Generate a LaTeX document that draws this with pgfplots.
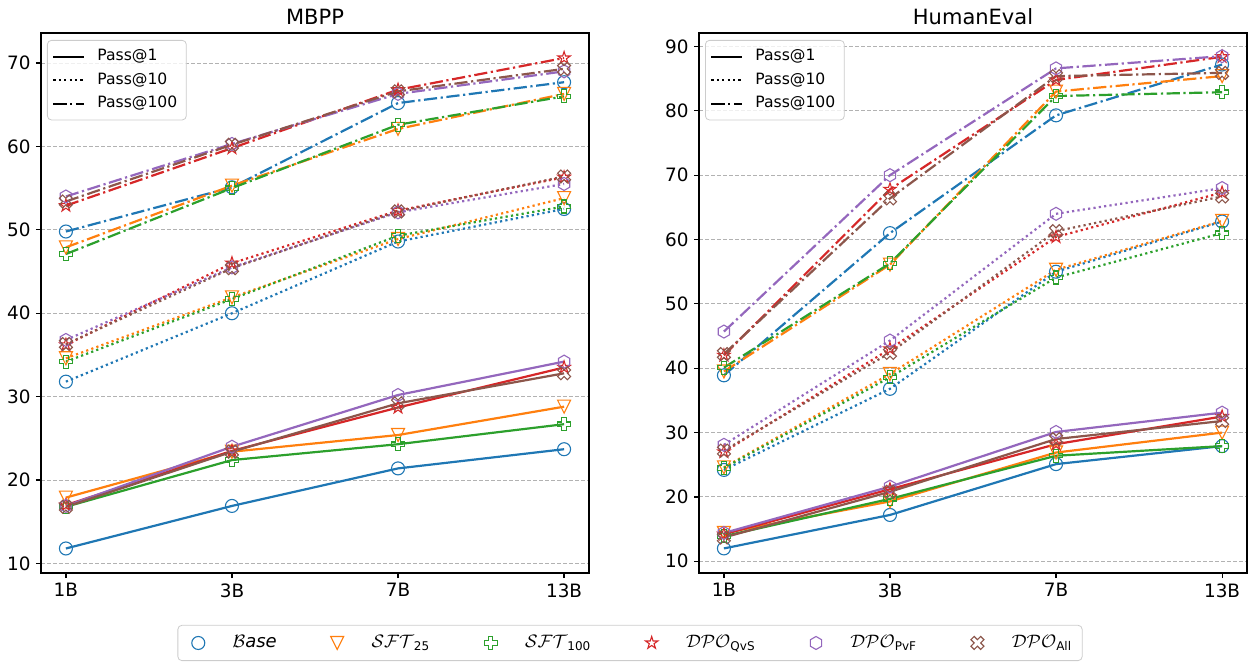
\documentclass[border=0pt]{standalone}
\usepackage{amsmath}
\usepackage{fontspec}
\setmainfont{DejaVu Sans}
\usepackage{pgfplots}
\usepackage{pgfplotstable}
\pgfplotsset{compat=1.18}

\definecolor{c0}{HTML}{1F77B4}
\definecolor{c1}{HTML}{FF7F0E}
\definecolor{c2}{HTML}{2CA02C}
\definecolor{c3}{HTML}{D62728}
\definecolor{c4}{HTML}{9467BD}
\definecolor{c5}{HTML}{8C564B}

% open markers in the matplotlib shapes
\newcommand{\mk}[2]{\pgfpoint{#1\pgfplotmarksize}{#2\pgfplotmarksize}}
\pgfdeclareplotmark{tridown}{%
  \pgfpathmoveto{\mk{0}{-1}}\pgfpathlineto{\mk{-1}{1}}\pgfpathlineto{\mk{1}{1}}%
  \pgfpathclose\pgfusepathqstroke}
\pgfdeclareplotmark{plusP}{%
  \pgfpathmoveto{\mk{-0.333}{-1}}\pgfpathlineto{\mk{0.333}{-1}}\pgfpathlineto{\mk{0.333}{-0.333}}%
  \pgfpathlineto{\mk{1}{-0.333}}\pgfpathlineto{\mk{1}{0.333}}\pgfpathlineto{\mk{0.333}{0.333}}%
  \pgfpathlineto{\mk{0.333}{1}}\pgfpathlineto{\mk{-0.333}{1}}\pgfpathlineto{\mk{-0.333}{0.333}}%
  \pgfpathlineto{\mk{-1}{0.333}}\pgfpathlineto{\mk{-1}{-0.333}}\pgfpathlineto{\mk{-0.333}{-0.333}}%
  \pgfpathclose\pgfusepathqstroke}
\pgfdeclareplotmark{xO}{%
  \pgfpathmoveto{\mk{-0.5}{-1}}\pgfpathlineto{\mk{0}{-0.5}}\pgfpathlineto{\mk{0.5}{-1}}%
  \pgfpathlineto{\mk{1}{-0.5}}\pgfpathlineto{\mk{0.5}{0}}\pgfpathlineto{\mk{1}{0.5}}%
  \pgfpathlineto{\mk{0.5}{1}}\pgfpathlineto{\mk{0}{0.5}}\pgfpathlineto{\mk{-0.5}{1}}%
  \pgfpathlineto{\mk{-1}{0.5}}\pgfpathlineto{\mk{-0.5}{0}}\pgfpathlineto{\mk{-1}{-0.5}}%
  \pgfpathclose\pgfusepathqstroke}
\pgfdeclareplotmark{starO}{%
  \pgfpathmoveto{\pgfpointpolar{90}{\pgfplotmarksize}}%
  \pgfpathlineto{\pgfpointpolar{126}{0.382\pgfplotmarksize}}\pgfpathlineto{\pgfpointpolar{162}{\pgfplotmarksize}}%
  \pgfpathlineto{\pgfpointpolar{198}{0.382\pgfplotmarksize}}\pgfpathlineto{\pgfpointpolar{234}{\pgfplotmarksize}}%
  \pgfpathlineto{\pgfpointpolar{270}{0.382\pgfplotmarksize}}\pgfpathlineto{\pgfpointpolar{306}{\pgfplotmarksize}}%
  \pgfpathlineto{\pgfpointpolar{342}{0.382\pgfplotmarksize}}\pgfpathlineto{\pgfpointpolar{18}{\pgfplotmarksize}}%
  \pgfpathlineto{\pgfpointpolar{54}{0.382\pgfplotmarksize}}%
  \pgfpathclose\pgfusepathqstroke}
\pgfdeclareplotmark{hexO}{%
  \pgfpathmoveto{\pgfpointpolar{90}{\pgfplotmarksize}}%
  \pgfpathlineto{\pgfpointpolar{150}{\pgfplotmarksize}}\pgfpathlineto{\pgfpointpolar{210}{\pgfplotmarksize}}%
  \pgfpathlineto{\pgfpointpolar{270}{\pgfplotmarksize}}\pgfpathlineto{\pgfpointpolar{330}{\pgfplotmarksize}}%
  \pgfpathlineto{\pgfpointpolar{30}{\pgfplotmarksize}}%
  \pgfpathclose\pgfusepathqstroke}

\pgfplotsset{
  mk/.style={mark size=3.25pt, mark options={solid, fill=none, line width=0.55pt}},
  mB/.style={color=c0, mark=o, mk},
  mS/.style={color=c1, mark=tridown, mk},
  mT/.style={color=c2, mark=plusP, mk},
  mQ/.style={color=c3, mark=starO, mk},
  mP/.style={color=c4, mark=hexO, mk},
  mA/.style={color=c5, mark=xO, mk},
  pass1/.style={solid},
  pass10/.style={dash pattern=on 1.1pt off 1.6pt},
  pass100/.style={dash pattern=on 6.6pt off 1.8pt on 1.1pt off 1.8pt},
  panel/.style={
    scale only axis, width=274pt, height=270pt, anchor=south west,
    xmin=-0.15, xmax=3.15, xtick={0,1,2,3}, xticklabels={1B,3B,7B,13B},
    tick align=outside, tick pos=left, major tick length=2.5pt,
    tick style={black, line width=0.6pt},
    axis line style={line width=0.8pt},
    ymajorgrids, major grid style={dash pattern=on 2pt off 1pt, color=black!30, line width=0.45pt},
    ticklabel style={font=\fontsize{9.2}{10}\selectfont},
    xticklabel style={inner sep=0pt, yshift=-2.5pt},
    yticklabel style={inner sep=0pt, xshift=-2.5pt},
    /pgf/number format/assume math mode=true,
    every axis title shift=0pt,
    title style={font=\fontsize{10.5}{12}\selectfont, at={(0.5,1)}, anchor=south, inner sep=0pt, yshift=4pt},
    every axis plot/.append style={line width=1.1pt},
    legend style={at={(0,1)}, anchor=north west, xshift=3pt, yshift=-3.5pt,
      draw=black!20, rounded corners=2pt, fill=white, fill opacity=0.8, text opacity=1,
      inner sep=2.5pt,
      font=\fontsize{7.8}{9}\selectfont, row sep=0.5pt,
      /tikz/every odd column/.append style={column sep=4pt}},
    legend cell align=left,
    legend image code/.code={\draw[##1, line width=1pt] (0pt,0pt) -- (15.5pt,0pt);},
  },
}

% columns: b=Base, s=SFT25, t=SFT100, q=DPO_QvS, p=DPO_PvF, a=DPO_All; suffix = Pass@k
\pgfplotstableread{
x b1 s1 t1 q1 p1 a1 b10 s10 t10 q10 p10 a10 b100 s100 t100 q100 p100 a100
0 11.8 17.9 16.8 17.0 16.9 16.8 31.8 34.6 34.2 36.2 36.8 36.3 49.8 47.9 47.1 52.9 54.0 53.4
1 16.9 23.4 22.4 23.5 24.0 23.4 40.0 41.9 41.7 46.0 45.5 45.4 55.1 55.3 55.0 59.8 60.3 60.2
2 21.4 25.4 24.3 28.7 30.2 29.2 48.6 48.9 49.3 52.3 52.1 52.2 65.2 62.1 62.6 66.8 66.3 66.6
3 23.7 28.8 26.7 33.5 34.2 32.8 52.5 53.8 52.8 56.3 55.5 56.4 67.7 66.3 66.0 70.6 69.0 69.3
}\mbpp
\pgfplotstableread{
x b1 s1 t1 q1 p1 a1 b10 s10 t10 q10 p10 a10 b100 s100 t100 q100 p100 a100
0 12.0 14.4 13.9 14.2 14.4 13.7 24.2 24.6 24.5 27.0 28.1 27.2 38.9 39.5 40.1 42.0 45.7 42.2
1 17.2 19.3 19.7 21.2 21.6 20.8 36.8 39.1 38.6 43.0 44.3 42.4 61.0 56.1 56.3 67.8 70.0 66.4
2 25.1 26.9 26.4 28.2 30.1 29.0 55.0 55.3 54.1 60.4 64.0 61.3 79.3 83.0 82.3 84.8 86.6 85.4
3 27.9 30.0 27.9 32.5 33.1 31.8 62.8 62.9 61.0 67.3 68.0 66.7 87.2 85.4 82.9 88.4 88.5 85.9
}\humaneval

\begin{document}
\begin{tikzpicture}
\useasboundingbox (0,0) rectangle (628.5pt,334.5pt);

\begin{axis}[panel, at={(20.5pt,48pt)}, title={MBPP},
  ymin=8.86, ymax=73.6, ytick={10,20,...,70}]
\addlegendimage{black, pass1}
\addlegendimage{black, pass10}
\addlegendimage{black, pass100}
\legend{Pass@1,Pass@10,Pass@100}
\pgfplotsinvokeforeach{1,10,100}{
  \addplot[mB, pass#1] table[x=x, y=b#1] {\mbpp};
  \addplot[mS, pass#1] table[x=x, y=s#1] {\mbpp};
  \addplot[mT, pass#1] table[x=x, y=t#1] {\mbpp};
  \addplot[mQ, pass#1] table[x=x, y=q#1] {\mbpp};
  \addplot[mP, pass#1] table[x=x, y=p#1] {\mbpp};
  \addplot[mA, pass#1] table[x=x, y=a#1] {\mbpp};
}
\end{axis}

\begin{axis}[panel, at={(349.5pt,48pt)}, title={HumanEval},
  ymin=8.18, ymax=92.1, ytick={10,20,...,90}]
\addlegendimage{black, pass1}
\addlegendimage{black, pass10}
\addlegendimage{black, pass100}
\legend{Pass@1,Pass@10,Pass@100}
\pgfplotsinvokeforeach{1,10,100}{
  \addplot[mB, pass#1] table[x=x, y=b#1] {\humaneval};
  \addplot[mS, pass#1] table[x=x, y=s#1] {\humaneval};
  \addplot[mT, pass#1] table[x=x, y=t#1] {\humaneval};
  \addplot[mQ, pass#1] table[x=x, y=q#1] {\humaneval};
  \addplot[mP, pass#1] table[x=x, y=p#1] {\humaneval};
  \addplot[mA, pass#1] table[x=x, y=a#1] {\humaneval};
}
\end{axis}

% shared method legend at the bottom
\begin{axis}[at={(0pt,0pt)}, anchor=south west, scale only axis,
  width=628.5pt, height=334.5pt, hide axis,
  xmin=0, xmax=1, ymin=0, ymax=1,
  legend columns=6,
  legend style={at={(0.5012,0.0389)}, anchor=center,
    draw=black!20, rounded corners=2pt, fill=white, inner sep=5pt,
    nodes={inner sep=0pt},
    font=\fontsize{9}{10}\selectfont,
    /tikz/every even column/.append style={column sep=25pt}},
  legend image code/.code={\path (-5pt,0pt) (17pt,0pt);
    \draw[#1] plot coordinates {(0pt,0pt)};},
  legend cell align=left]
\addlegendimage{only marks, mB}
\addlegendimage{only marks, mS}
\addlegendimage{only marks, mT}
\addlegendimage{only marks, mQ}
\addlegendimage{only marks, mP}
\addlegendimage{only marks, mA}
\legend{$\mathcal{B}\mathit{ase}$, $\mathcal{SFT}_{\text{25}}$, $\mathcal{SFT}_{\text{100}}$,
  $\mathcal{DPO}_{\text{QvS}}$, $\mathcal{DPO}_{\text{PvF}}$, $\mathcal{DPO}_{\text{All}}$}
\end{axis}
\end{tikzpicture}
\end{document}
